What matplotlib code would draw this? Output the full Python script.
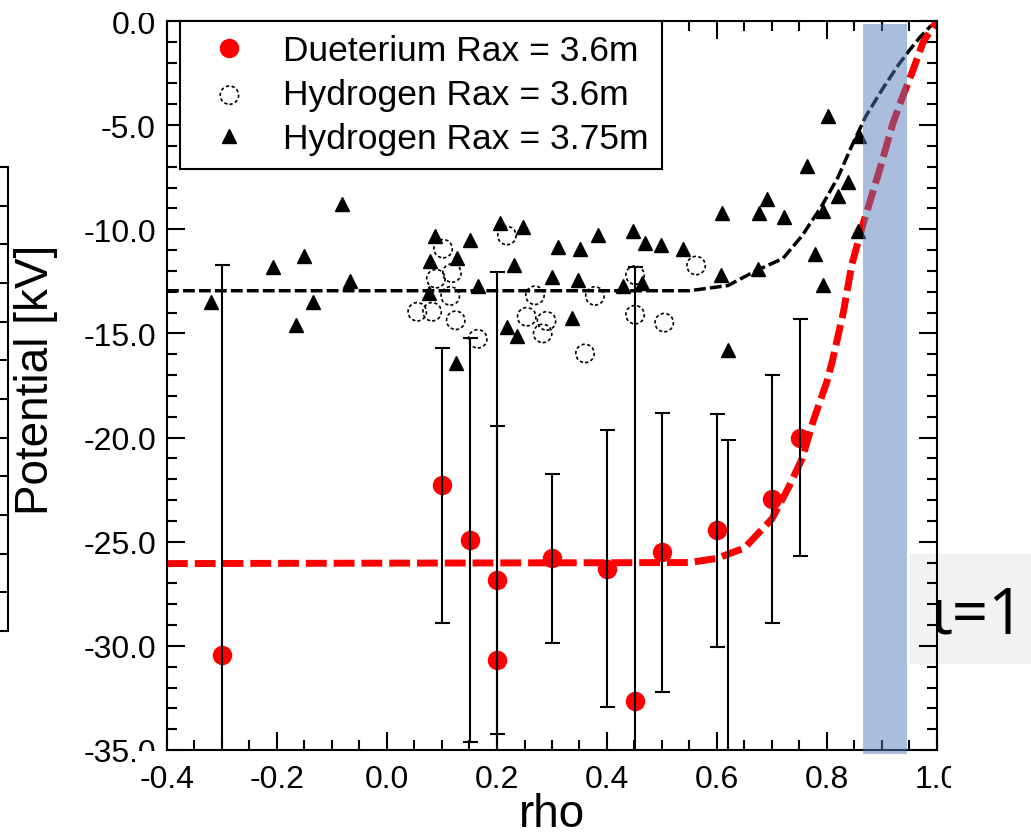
import numpy as np
import matplotlib
matplotlib.use("Agg")
import matplotlib.pyplot as plt
from matplotlib.patches import Rectangle

plt.rcParams['font.family'] = ['Liberation Sans', 'DejaVu Sans']
plt.rcParams['axes.unicode_minus'] = False

# Deuterium Rax = 3.6m (with error bars)
d_rho = [-0.30, 0.10, 0.15, 0.20, 0.20, 0.30, 0.40, 0.45, 0.50, 0.60, 0.62, 0.70, 0.75]
d_phi = [-30.45, -22.3, -24.9, -26.85, -30.7, -25.8, -26.3, -32.65, -25.5, -24.45, -37.0, -22.95, -20.0]
d_err = [18.75, 6.6, 9.7, 7.4, 18.65, 4.05, 6.65, 20.85, 6.7, 5.6, 16.9, 5.95, 5.7]

# Hydrogen Rax = 3.6m
h36_rho = [0.055, 0.082, 0.089, 0.102, 0.115, 0.118, 0.125, 0.165, 0.218, 0.254,
           0.269, 0.283, 0.290, 0.360, 0.378, 0.451, 0.451, 0.504, 0.562]
h36_phi = [-13.96, -13.96, -12.37, -10.93, -13.2, -12.1, -14.37, -15.26, -10.3, -14.2,
           -13.17, -15.0, -14.4, -15.96, -13.2, -12.2, -14.1, -14.48, -11.74]

# Hydrogen Rax = 3.75m
h375_rho = [-0.320, -0.207, -0.151, -0.165, -0.135, -0.082, -0.067,
            0.087, 0.078, 0.076, 0.127, 0.151, 0.165, 0.125, 0.205, 0.247, 0.231, 0.218, 0.236,
            0.300, 0.311, 0.351, 0.347, 0.384, 0.336, 0.447, 0.469, 0.498, 0.538, 0.429, 0.464,
            0.607, 0.609, 0.620, 0.675, 0.676, 0.691, 0.722, 0.764, 0.802, 0.858, 0.838, 0.820,
            0.793, 0.778, 0.793, 0.856]
h375_phi = [-13.47, -11.8, -11.3, -14.6, -13.5, -8.77, -12.46,
            -10.3, -11.5, -13.04, -11.4, -10.5, -12.7, -16.4, -9.7, -9.9, -11.7, -14.7, -15.1,
            -12.27, -10.85, -10.93, -12.45, -10.26, -14.24, -10.07, -10.64, -10.74, -10.93, -12.7, -12.6,
            -12.18, -9.2, -15.8, -11.89, -9.2, -8.53, -9.4, -6.95, -4.55, -5.5, -7.72, -8.39,
            -9.1, -11.17, -12.66, -10.1]

# fitted profiles
fit_rho_d = [-0.40, 0.55, 0.60, 0.65, 0.70, 0.73, 0.755, 0.775, 0.80, 0.81, 0.83, 0.845,
             0.865, 0.895, 0.92, 0.936, 0.955, 0.975, 1.0]
fit_phi_d = [-26.05, -26.0, -25.8, -25.3, -23.9, -22.4, -21.0, -19.2, -17.3, -16.3, -13.95, -11.7,
             -9.8, -7.2, -4.9, -3.74, -2.45, -1.0, 0.0]
fit_rho_h = [-0.40, 0.55, 0.62, 0.67, 0.72, 0.755, 0.79, 0.82, 0.845, 0.87, 0.90, 0.93, 0.95, 0.97, 0.99]
fit_phi_h = [-12.95, -12.95, -12.7, -12.0, -11.4, -10.3, -8.9, -7.5, -6.0, -4.6, -3.3, -2.1, -1.4, -0.75, -0.2]

x_ticks = [-0.4, -0.2, 0.0, 0.2, 0.4, 0.6, 0.8, 1.0]
y_ticks = [-35, -30, -25, -20, -15, -10, -5, 0]

W, H = 1031, 837
fig = plt.figure(figsize=(W / 100, H / 100), dpi=100)
ax = fig.add_axes([167 / W, 1 - 751 / H, 770 / W, 729 / H])
ax.set_facecolor('none')


def px_rect(x0, y0, x1, y1, color, z):
    # rectangle given in picture pixels (origin top-left)
    fig.add_artist(Rectangle((x0 / W, 1 - y1 / H), (x1 - x0) / W, (y1 - y0) / H,
                             transform=fig.transFigure, facecolor=color, edgecolor='none', zorder=z))


# grey label box on the slide
px_rect(910, 555, 1040, 665, '#f2f2f2', -1)
fig.text(931 / W, 1 - 634 / H, 'ι=1', fontsize=46, family=['Open Sans', 'DejaVu Sans'],
         ha='left', va='baseline')

ax.plot(fit_rho_h, fit_phi_h, color='black', lw=2.5, dashes=(3.4, 1.2), zorder=2)
ax.plot(fit_rho_d, fit_phi_d, color='red', lw=5, dashes=(3, 1), zorder=2)

hh = ax.scatter(h36_rho, h36_phi, s=175, facecolors='none', edgecolors='black',
                linewidths=1.2, linestyles=(0, (2, 1.5)), zorder=3, label='Hydrogen Rax = 3.6m')
ht, = ax.plot(h375_rho, h375_phi, '^', color='black', ms=10, ls='none', zorder=3,
              label='Hydrogen Rax = 3.75m')
hd, = ax.plot(d_rho, d_phi, 'o', color='red', ms=13, ls='none', zorder=3,
              label='Dueterium Rax = 3.6m')
ax.errorbar(d_rho, d_phi, yerr=d_err, fmt='none', ecolor='black', elinewidth=1.5,
            capsize=5.4, capthick=1.5, zorder=4)

ax.axvspan(0.865, 0.945, ymin=-0.006, ymax=0.996, color='#527ab8', alpha=0.49, lw=0,
           zorder=5, clip_on=False)

leg = ax.legend(handles=[hd, hh, ht], loc='upper left', bbox_to_anchor=(13 / 770, 1.0),
                borderaxespad=0, fontsize=25.5, fancybox=False, edgecolor='black', framealpha=1,
                handlelength=2.03, handletextpad=0.5, borderpad=0.38, labelspacing=0.31,
                scatterpoints=1)
leg.get_frame().set_linewidth(1.5)

ax.set_xlim(-0.4, 1.0)
ax.set_ylim(-35, 0)
ax.set_xticks(x_ticks)
ax.set_xticklabels([f'{v:.1f}' for v in x_ticks])
ax.set_yticks(y_ticks)
ax.set_yticklabels([f'{v:.1f}' for v in y_ticks])
ax.set_xticks(np.arange(-0.4, 1.001, 0.05), minor=True)
ax.set_yticks(np.arange(-35, 0.1, 1), minor=True)
ax.tick_params(which='both', direction='in', top=True, right=True, width=1.5, labelsize=23)
ax.tick_params(which='major', length=13)
ax.tick_params(which='minor', length=7)
ax.tick_params(axis='x', pad=10)
ax.tick_params(axis='y', pad=8)
for s in ax.spines.values():
    s.set_linewidth(1.5)

ax.set_xlabel('rho', fontsize=33, va='baseline')
ax.xaxis.set_label_coords(0.5, -0.104)
ax.set_ylabel('Potential [kV]', fontsize=33, va='center')
ax.yaxis.set_label_coords(-0.170, 0.509)

# tick labels partly hidden by the slide crop
px_rect(138, 0, 162, 14, 'white', 10)
px_rect(138, 752, 162, 764, 'white', 10)
px_rect(951, 755, 990, 805, 'white', 10)

# fragment of a neighbouring chart at the left edge
ax2 = fig.add_axes([-0.02, 1 - 632 / H, 0.02 + 8 / W, 464 / H])
ax2.set_facecolor('none')
ax2.set_xlim(0, 1)
ax2.set_ylim(0, 12)
ax2.spines['left'].set_visible(False)
for s in ax2.spines.values():
    s.set_linewidth(1.5)
ax2.set_xticks([])
ax2.set_yticks(np.arange(1, 12))
ax2.yaxis.tick_right()
ax2.tick_params(direction='in', length=6, width=1.5, labelright=False)

fig.savefig('out.png', dpi=100)
